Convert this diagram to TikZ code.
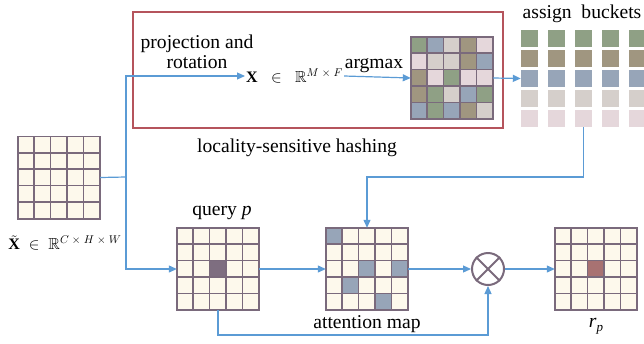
\RequirePackage{fix-cm}
\documentclass[tikz,border=0pt]{standalone}
\usepackage{amsmath,amssymb}
\usepackage{fontspec}
\setmainfont{Liberation Serif}
\usetikzlibrary{calc,arrows.meta}
\definecolor{cream}{HTML}{FDF9EC}
\definecolor{gcol}{HTML}{7A6A7C}
\definecolor{cG}{HTML}{8FA085}
\definecolor{cB}{HTML}{97A5B8}
\definecolor{cK}{HTML}{A09680}
\definecolor{cL}{HTML}{D5CFCB}
\definecolor{cP}{HTML}{E5D7DB}
\definecolor{cDark}{HTML}{7E6E80}
\definecolor{cRed}{HTML}{A87272}
\definecolor{arr}{HTML}{5B9BD5}
\definecolor{boxred}{HTML}{B5545C}
\newcommand{\mygrid}[2]{\node[gridbox] (#1) at #2 {};}
\newcommand{\mycell}[4]{\fill[#4] ($(#1.north west)+(#2*16.4,#3*16.4)$) rectangle ++(16.4,16.4);}
\newcommand{\mylines}[1]{%
  \foreach \k in {1,2,3,4}{%
    \draw[gridln] ($(#1.north west)+(\k*16.4,0)$) -- ($(#1.south west)+(\k*16.4,0)$);
    \draw[gridln] ($(#1.north west)+(0,\k*16.4)$) -- ($(#1.north east)+(0,\k*16.4)$);}
  \draw[gridln] (#1.north west) rectangle (#1.south east);}
\tikzset{
  gridbox/.style={rectangle, minimum width=82pt, minimum height=82pt, inner sep=0pt, fill=cream},
  gridln/.style={draw=gcol, line width=1.6pt},
  bucket/.style={rectangle, minimum width=17pt, minimum height=17pt, inner sep=0pt},
  conn/.style={draw=arr, line width=1.2pt},
  tip/.style={-{Triangle[length=8pt,width=7pt]}},
  lbl/.style={font=\fontsize{19.6}{22}\selectfont, inner sep=0pt, text=black},
  mlbl/.style={font=\fontsize{16}{19}\selectfont, inner sep=1pt, text=black},
}
\begin{document}
\begin{tikzpicture}[x=1pt,y=-1pt]
\useasboundingbox (0,0) rectangle (644,343);
% LSH box
\node[draw=boxred, line width=1.2pt, minimum width=370pt, minimum height=116pt, inner sep=0pt] (lsh) at (318,70) {};
\node[lbl] (lshlbl) at (297,148) {locality-sensitive hashing};
% input grid
\mygrid{in}{(59,177.5)}
\mylines{in}
\node[mlbl] (inlbl) at (65,243) {$\tilde{\mathbf{X}}\;\in\;\mathbb{R}^{C\mkern5mu\times\mkern5mu H\mkern5mu\times\mkern5mu W}$};
% projection
\node[lbl, align=center] (proj) at (197,52) {projection and\\[-2pt]rotation};
\node[mlbl, anchor=west] (xlab) at (245,76) {$\mathbf{X}\;\;\in\;\;\mathbb{R}^{M\mkern5mu\times\mkern5mu F}$};
\node[lbl] (argl) at (374,66) {argmax};
% argmax grid
\mygrid{am}{(452,78)}
\foreach \c/\r/\cc in {0/0/cG,1/0/cB,2/0/cL,3/0/cK,4/0/cP,
                       0/1/cP,1/1/cL,2/1/cL,3/1/cK,4/1/cB,
                       0/2/cK,1/2/cP,2/2/cG,3/2/cP,4/2/cP,
                       0/3/cK,1/3/cG,2/3/cL,3/3/cB,4/3/cG,
                       0/4/cB,1/4/cG,2/4/cB,3/4/cK,4/4/cL}{\mycell{am}{\c}{\r}{\cc}}
\mylines{am}
% buckets
\node[lbl] (asg) at (582,14) {assign\ \ buckets};
\foreach \i in {0,...,4}{
  \foreach \j/\cc in {0/cG,1/cK,2/cB,3/cL,4/cP}{
    \node[bucket, fill=\cc] (b\i\j) at (529.5+27*\i,38.5+20*\j) {};
  }}
% query grid
\mygrid{q}{(218,269)}
\mycell{q}{2}{2}{cDark}
\mylines{q}
\node[lbl] (ql) at (222,213) {query \textit{p}};
% attention grid
\mygrid{at}{(367,269)}
\foreach \c/\r in {0/0,2/2,4/2,1/3,3/4}{\mycell{at}{\c}{\r}{cB}}
\mylines{at}
\node[lbl] (atl) at (367,324) {attention map};
% multiply
\node[circle, draw=gcol, line width=2pt, minimum size=32pt, inner sep=0pt] (mul) at (488,269) {};
\draw[gcol, line width=2pt] (mul.north west) -- (mul.south east);
\draw[gcol, line width=2pt] (mul.north east) -- (mul.south west);
% output grid
\mygrid{out}{(596,269)}
\mycell{out}{2}{2}{cRed}
\mylines{out}
\node[lbl] (outl) at (596,326) {\textit{r}\raisebox{-4pt}{\fontsize{13}{14}\selectfont\textit{p}}};
% connectors
\coordinate (split) at (126,177);
\coordinate (turn) at (367,177);
\coordinate (low) at (218,335);
\draw[conn] (in.east) -- (split);
\draw[conn, tip] (split) |- (xlab.west);
\draw[conn, tip] (split) |- (q.west);
\draw[conn, tip] (xlab.east) -- (am.west);
\draw[conn, tip] (am.east) -- (b02.west);
\draw[conn, tip] (b24.south) |- (turn) -- (at.north);
\draw[conn, tip] (q.east) -- (at.west);
\draw[conn, tip] (at.east) -- (mul.west);
\draw[conn, tip] (q.south) -- (low) -| (mul.south);
\draw[conn, tip] (mul.east) -- (out.west);
\end{tikzpicture}
\end{document}
